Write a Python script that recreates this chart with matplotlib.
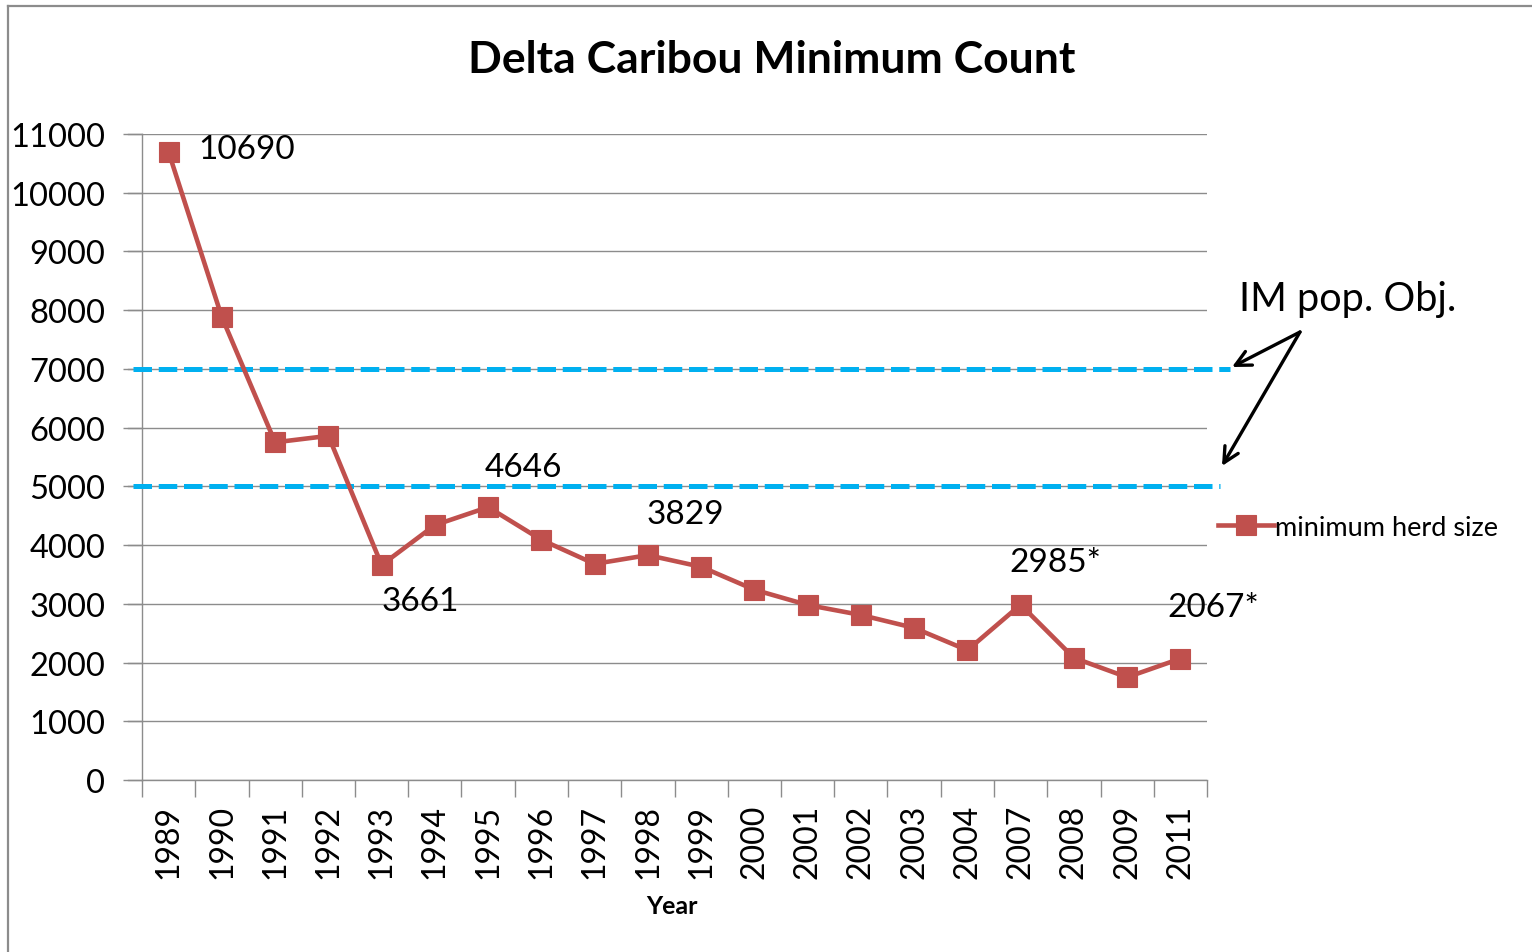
import matplotlib
matplotlib.use("Agg")
import matplotlib.pyplot as plt
from matplotlib.lines import Line2D
import numpy as np

# Survey years and minimum herd counts
years = ["1989", "1990", "1991", "1992", "1993", "1994", "1995", "1996", "1997", "1998",
         "1999", "2000", "2001", "2002", "2003", "2004", "2007", "2008", "2009", "2011"]
herd_size = [10690, 7880, 5750, 5860, 3661, 4340, 4646, 4090, 3680, 3829,
             3630, 3240, 2980, 2810, 2590, 2210, 2985, 2080, 1750, 2067]

# Labelled points: (year, text, x offset px, y offset px)
point_labels = [
    ("1989", "10690", 30, 3),
    ("1993", "3661", 0, -36),
    ("1995", "4646", -3, 40),
    ("1998", "3829", -1, 41),
    ("2007", "2985*", -11, 43),
    ("2011", "2067*", -13, 52),
]

# Intensive-management population objectives
objectives = [7000, 5000]
objective_right_edge = [1.0216, 1.0122]

y_ticks = list(range(0, 11001, 1000))

FONT = "Lato"
RED = "#C0504D"
BLUE = "#00B0F0"
GRID = "#8C8C8C"

fig = plt.figure(figsize=(15.32, 9.53), dpi=100)
ax = fig.add_axes([142 / 1532, 1 - 781 / 953, 1065 / 1532, 646 / 953])

x = np.arange(len(years))
line, = ax.plot(x, herd_size, color=RED, lw=3.3, marker="s", markersize=14.5,
                markerfacecolor=RED, markeredgecolor=RED, markeredgewidth=0.8,
                zorder=5, label="minimum herd size", clip_on=False)

ax.set_xlim(-0.5, len(years) - 0.5)
ax.set_ylim(0, 11000)

# axes styling
for side in ("top", "right"):
    ax.spines[side].set_visible(False)
for side in ("left", "bottom"):
    ax.spines[side].set_color(GRID)
    ax.spines[side].set_linewidth(1.0)

ax.set_yticks(y_ticks)
ax.set_yticklabels([str(v) for v in y_ticks], fontsize=23.5, family=FONT)
ax.tick_params(axis="y", length=14, width=1.0, color=GRID, pad=12.5, direction="out")
ax.yaxis.grid(True, color=GRID, lw=1.0)
ax.set_axisbelow(True)

ax.set_xticks(x)
ax.set_xticklabels(years, rotation=90, fontsize=23, family=FONT)
ax.tick_params(axis="x", which="major", length=0, pad=17)
ax.set_xticks(np.arange(-0.5, len(years), 1.0), minor=True)
ax.tick_params(axis="x", which="minor", length=12, width=1.0, color=GRID, direction="out")

# extend gridlines to the tick marks on the left
for v in y_ticks:
    ax.plot([-0.5 - 14 / 53.25, -0.5], [v, v], color=GRID, lw=1.0, clip_on=False, zorder=1)

# objective lines
for val, xmax in zip(objectives, objective_right_edge):
    ax.axhline(val, xmin=-0.0085, xmax=xmax, color=BLUE, lw=3.6,
               dashes=(3.7, 1.35), clip_on=False, zorder=3)

# data labels
for yr, txt, dx, dy in point_labels:
    i = years.index(yr)
    ax.annotate(txt, xy=(i, herd_size[i]), xytext=(dx, dy), textcoords="offset pixels",
                ha="left", va="center", fontsize=24, family=FONT, zorder=6)

# title and axis title
fig.text(772 / 1532, 1 - 60 / 953, "Delta Caribou Minimum Count", ha="center", va="center",
         fontsize=32, fontweight="bold", family=FONT)
fig.text(672 / 1532, 1 - 907 / 953, "Year", ha="center", va="center",
         fontsize=18, fontweight="bold", family=FONT)

# objective annotation with arrows
fig.text(1348 / 1532, 1 - 300 / 953, "IM pop. Obj.", ha="center", va="center",
         fontsize=28.5, family=FONT)
tail = (1300, 953 - 333)
for head in [(1232, 953 - 368), (1222, 953 - 467)]:
    ax.annotate("", xy=head, xycoords="figure pixels", xytext=tail,
                textcoords="figure pixels",
                arrowprops=dict(arrowstyle="->,head_length=1.1,head_width=0.55",
                                lw=2.4, color="black", shrinkA=0, shrinkB=0))

# legend
fig.legend(handles=[line], loc="center left", bbox_to_anchor=(1218 / 1532, 1 - 528 / 953),
           frameon=False, handlelength=2.05, handletextpad=0.05, borderaxespad=0,
           borderpad=0, prop={"family": FONT, "size": 19.5})

# outer frame
fig.add_artist(Line2D([8 / 1532, 8 / 1532], [0, 1 - 7 / 953], transform=fig.transFigure,
                      color="#8C8C8C", lw=1.6))
fig.add_artist(Line2D([8 / 1532, 1], [1 - 7 / 953, 1 - 7 / 953], transform=fig.transFigure,
                      color="#8C8C8C", lw=1.6))

fig.savefig("out.png", dpi=100)
